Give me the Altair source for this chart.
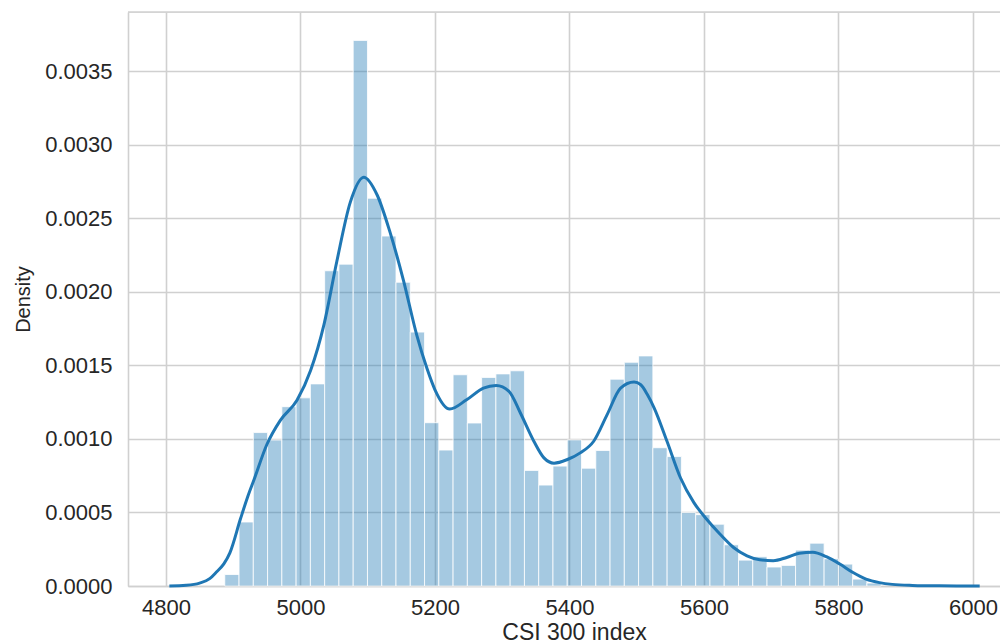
import altair as alt
import pandas as pd

# Histogram (density)
bin_start = 4887.4
bin_width = 21.22
bar_density = [
    0.000078, 0.000435, 0.001043, 0.000992, 0.001219, 0.001279, 0.001374, 0.002143,
    0.002188, 0.003709, 0.002636, 0.002379, 0.002065, 0.001726, 0.001110, 0.000924,
    0.001436, 0.001108, 0.001418, 0.001442, 0.001463, 0.000786, 0.000686, 0.000815,
    0.000993, 0.000801, 0.000921, 0.001406, 0.001521, 0.001564, 0.000940, 0.000880,
    0.000499, 0.000485, 0.000420, 0.000280, 0.000176, 0.000199, 0.000129, 0.000140,
    0.000244, 0.000291, 0.000185, 0.000149, 0.000047, 0.000020,
]

# KDE curve points
kde_x = [4805, 4830, 4850, 4865, 4875, 4886, 4895, 4911, 4921, 4931, 4950, 4970, 4995,
         5015, 5035, 5054, 5074, 5094, 5114, 5133, 5153, 5173, 5188, 5200, 5222, 5247,
         5272, 5291, 5310, 5327, 5347, 5362, 5377, 5397, 5416, 5436, 5456, 5476, 5496,
         5506, 5516, 5526, 5545, 5565, 5585, 5604, 5624, 5644, 5664, 5683, 5703, 5723,
         5742, 5762, 5782, 5802, 5821, 5841, 5861, 5880, 5910, 5950, 6010]
kde_y = [0.000000, 0.000005, 0.000020, 0.000050, 0.000095, 0.000150, 0.000225, 0.000460,
         0.000600, 0.000724, 0.000962, 0.001126, 0.001264, 0.001465, 0.001779, 0.002206,
         0.002608, 0.002779, 0.002658, 0.002407, 0.002080, 0.001704, 0.001480, 0.001334,
         0.001203, 0.001266, 0.001345, 0.001363, 0.001323, 0.001176, 0.000984, 0.000871,
         0.000835, 0.000860, 0.000905, 0.000984, 0.001165, 0.001345, 0.001386, 0.001368,
         0.001300, 0.001210, 0.000984, 0.000736, 0.000567, 0.000454, 0.000352, 0.000262,
         0.000205, 0.000178, 0.000172, 0.000194, 0.000223, 0.000230, 0.000199, 0.000149,
         0.000093, 0.000047, 0.000023, 0.000011, 0.000004, 0.000001, 0.000000]

x_ticks = [4800, 5000, 5200, 5400, 5600, 5800, 6000]
y_ticks = [0.0, 0.0005, 0.0010, 0.0015, 0.0020, 0.0025, 0.0030, 0.0035]

x_title = "CSI 300 index"
y_title = "Density"

bars_df = pd.DataFrame({
    "left": [bin_start + i * bin_width for i in range(len(bar_density))],
    "right": [bin_start + (i + 1) * bin_width for i in range(len(bar_density))],
    "density": bar_density,
})
kde_df = pd.DataFrame({"x": kde_x, "y": kde_y})

W, H = 872, 574
xscale = alt.Scale(domain=[4743.5, 6040.2], nice=False, zero=False)
yscale = alt.Scale(domain=[0, 0.003902], nice=False)

FONT = "Liberation Sans"
GRID = "#d0d0d0"

xaxis = alt.Axis(
    values=x_ticks, format="d", title=x_title, tickSize=0, labelPadding=11,
    labelFontSize=22, labelFont=FONT, labelColor="#262626",
    titleFontSize=23, titleFont=FONT, titleColor="#262626", titleFontWeight="normal",
    titleX=446, titleY=53, titleBaseline="alphabetic", titleAlign="center",
    grid=True, gridColor=GRID, gridWidth=1.6, domainColor=GRID, domainWidth=1.6,
)
yaxis = alt.Axis(
    values=y_ticks, format=".4f", title=y_title, tickSize=0, labelPadding=16,
    labelFontSize=22, labelFont=FONT, labelColor="#262626",
    titleFontSize=20, titleFont=FONT, titleColor="#262626",
    titleFontWeight="normal", titleX=-105, titleY=287, titleBaseline="middle",
    titleAlign="center", titleAngle=270,
    grid=True, gridColor=GRID, gridWidth=1.6, domainColor=GRID, domainWidth=1.6,
)

bars = alt.Chart(bars_df).mark_bar(
    color="#1f77b4", fillOpacity=0.4, stroke="white", strokeWidth=1, strokeOpacity=0.8
).encode(
    x=alt.X("left:Q", scale=xscale, axis=xaxis),
    x2="right:Q",
    y=alt.Y("density:Q", scale=yscale, axis=yaxis),
    y2=alt.datum(0),
)

line = alt.Chart(kde_df).mark_line(
    color="#1f77b4", strokeWidth=3, interpolate="monotone"
).encode(
    x=alt.X("x:Q", scale=xscale),
    y=alt.Y("y:Q", scale=yscale),
)

top_spine = alt.Chart(pd.DataFrame({"a": [0]})).mark_rule(
    color=GRID, strokeWidth=1.6
).encode(x=alt.value(0), x2=alt.value(W), y=alt.value(0))

chart = alt.layer(bars, line, top_spine).properties(
    width=W, height=H,
    autosize=alt.AutoSizeParams(type="none"),
    padding={"left": 120, "top": 4, "right": 0, "bottom": 57},
).configure_view(stroke=None).configure(background="white")

chart.save("out.html", embed_options={"renderer": "svg", "actions": False})
